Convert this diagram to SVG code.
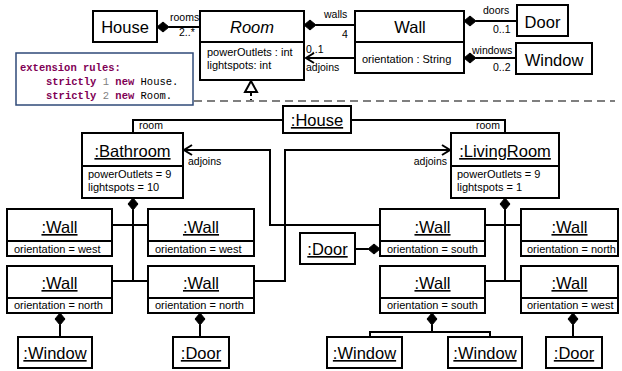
<svg xmlns="http://www.w3.org/2000/svg" width="622" height="371" viewBox="0 0 622 371">
  <style>
    .box { fill: #ffffff; stroke: #000000; stroke-width: 2; }
    .ln { fill: none; stroke: #000000; stroke-width: 2; }
    .dia { fill: #000000; stroke: #000000; stroke-width: 1; }
    .arr { fill: none; stroke: #000000; stroke-width: 2; }
    .t { font-family: "Liberation Sans", Arial, sans-serif; fill: #000000; }
    .cls { font-size: 16.5px; text-anchor: middle; }
    .obj { font-size: 16.5px; text-anchor: middle; text-decoration: underline; }
    .att { font-size: 11px; }
    .lbl { font-size: 10.5px; }
    .code { font-family: "Liberation Mono", "DejaVu Sans Mono", monospace; font-size: 10.5px; fill: #000000; }
    .kw { font-weight: bold; fill: #7f0055; }
    .num { fill: #808080; }
  </style>

  <!-- ===== class model ===== -->
  <g id="cls-house">
    <rect class="box" x="93" y="11" width="64" height="31"/>
    <text class="t cls" x="125" y="33">House</text>
  </g>
  <g id="cls-room">
    <rect class="box" x="200" y="11" width="104" height="69"/>
    <line class="ln" x1="200" y1="42" x2="304" y2="42"/>
    <text class="t cls" x="252" y="33" font-style="italic">Room</text>
    <text class="t att" x="207" y="56">powerOutlets : int</text>
    <text class="t att" x="207" y="69">lightspots: int</text>
  </g>
  <g id="cls-wall">
    <rect class="box" x="355" y="11" width="109" height="62"/>
    <line class="ln" x1="355" y1="42" x2="464" y2="42"/>
    <text class="t cls" x="410" y="33">Wall</text>
    <text class="t att" x="362" y="63">orientation : String</text>
  </g>
  <g id="cls-door">
    <rect class="box" x="517" y="5" width="51" height="31"/>
    <text class="t cls" x="542.5" y="28">Door</text>
  </g>
  <g id="cls-window">
    <rect class="box" x="516" y="43" width="76" height="31"/>
    <text class="t cls" x="554" y="66">Window</text>
  </g>

  <g id="ext-rules">
    <rect x="16" y="53" width="177" height="52" fill="#ffffff" stroke="#2f4a78" stroke-width="1.5"/>
    <text class="code kw" x="20" y="70.5">extension rules:</text>
    <text class="code" x="46" y="84.5"><tspan class="kw">strictly</tspan> <tspan class="num">1</tspan> <tspan class="kw">new</tspan> House.</text>
    <text class="code" x="46" y="98.5"><tspan class="kw">strictly</tspan> <tspan class="num">2</tspan> <tspan class="kw">new</tspan> Room.</text>
  </g>

  <g id="class-connectors">
    <!-- House rooms -->
    <line class="ln" x1="169" y1="27" x2="200" y2="27"/>
    <polygon class="dia" points="157,27 163,22 169,27 163,32"/>
    <text class="t lbl" x="170" y="21">rooms</text>
    <text class="t lbl" x="179" y="36">2..*</text>
    <!-- Room walls -->
    <line class="ln" x1="316" y1="25" x2="355" y2="25"/>
    <polygon class="dia" points="304,25 310,20 316,25 310,30"/>
    <text class="t lbl" x="324" y="18">walls</text>
    <text class="t lbl" x="342" y="38">4</text>
    <!-- Wall adjoins Room -->
    <line class="ln" x1="355" y1="58" x2="306" y2="58"/>
    <polyline class="arr" points="314,53 306,58 314,63"/>
    <text class="t lbl" x="306" y="53">0..1</text>
    <text class="t lbl" x="306" y="71">adjoins</text>
    <!-- Wall doors -->
    <line class="ln" x1="476" y1="21" x2="517" y2="21"/>
    <polygon class="dia" points="464,21 470,16 476,21 470,26"/>
    <text class="t lbl" x="483" y="14">doors</text>
    <text class="t lbl" x="493" y="33">0..1</text>
    <!-- Wall windows -->
    <line class="ln" x1="476" y1="58" x2="516" y2="58"/>
    <polygon class="dia" points="464,58 470,53 476,58 470,63"/>
    <text class="t lbl" x="472" y="54">windows</text>
    <text class="t lbl" x="493" y="71">0..2</text>
    <!-- instance-of separator -->
    <polygon points="251,81 245,92 257,92" fill="#ffffff" stroke="#000000" stroke-width="2"/>
    <line x1="251" y1="92" x2="251" y2="101" stroke="#000000" stroke-width="2" stroke-dasharray="4 3"/>
    <line x1="194" y1="101" x2="615" y2="101" stroke="#7f7f7f" stroke-width="2" stroke-dasharray="8 5"/>
  </g>

  <!-- ===== object model ===== -->
  <g id="obj-connectors">
    <!-- room links -->
    <polyline class="ln" points="283,120 133,120 133,133"/>
    <polyline class="ln" points="351,120 505,120 505,133"/>
    <text class="t lbl" x="139" y="129">room</text>
    <text class="t lbl" x="476" y="129">room</text>
    <!-- adjoins links -->
    <polyline class="ln" points="380,225 270,225 270,150 185,150"/>
    <polyline class="arr" points="192,145 184,150 192,155"/>
    <text class="t lbl" x="188" y="165">adjoins</text>
    <polyline class="ln" points="254,281 285,281 285,150 450,150"/>
    <polyline class="arr" points="442,145 450,150 442,155"/>
    <text class="t lbl" x="447" y="165" text-anchor="end">adjoins</text>
    <!-- Bathroom walls -->
    <polygon class="dia" points="133,198 138,204 133,210 128,204"/>
    <line class="ln" x1="133" y1="210" x2="133" y2="281"/>
    <line class="ln" x1="112" y1="225" x2="148" y2="225"/>
    <line class="ln" x1="112" y1="281" x2="148" y2="281"/>
    <!-- LivingRoom walls -->
    <polygon class="dia" points="505,198 510,204 505,210 500,204"/>
    <line class="ln" x1="505" y1="210" x2="505" y2="281"/>
    <line class="ln" x1="485" y1="225" x2="521" y2="225"/>
    <line class="ln" x1="485" y1="281" x2="521" y2="281"/>
    <!-- door / window parts -->
    <polygon class="dia" points="380,249 374,244 368,249 374,254"/>
    <line class="ln" x1="355" y1="249" x2="368" y2="249"/>
    <polygon class="dia" points="60,313 65,319 60,325 55,319"/>
    <line class="ln" x1="60" y1="325" x2="60" y2="337"/>
    <polygon class="dia" points="200,313 205,319 200,325 195,319"/>
    <line class="ln" x1="200" y1="325" x2="200" y2="337"/>
    <polygon class="dia" points="432,313 437,319 432,325 427,319"/>
    <polyline class="ln" points="432,325 432,332"/>
    <polyline class="ln" points="370,337 370,332 490,332 490,337"/>
    <polygon class="dia" points="573,313 578,319 573,325 568,319"/>
    <line class="ln" x1="573" y1="325" x2="573" y2="337"/>
  </g>

  <g id="o-house">
    <rect class="box" x="283" y="106" width="68" height="27"/>
    <text class="t obj" x="317" y="126">:House</text>
  </g>
  <g id="o-bathroom">
    <rect class="box" x="82" y="133" width="101" height="65"/>
    <line class="ln" x1="82" y1="166" x2="183" y2="166"/>
    <text class="t obj" x="132.5" y="157">:Bathroom</text>
    <text class="t att" x="88" y="178">powerOutlets = 9</text>
    <text class="t att" x="88" y="191">lightspots = 10</text>
  </g>
  <g id="o-livingroom">
    <rect class="box" x="451" y="133" width="108" height="65"/>
    <line class="ln" x1="451" y1="166" x2="559" y2="166"/>
    <text class="t obj" x="505" y="157">:LivingRoom</text>
    <text class="t att" x="457" y="178">powerOutlets = 9</text>
    <text class="t att" x="457" y="191">lightspots = 1</text>
  </g>

  <g id="o-wall-1">
    <rect class="box" x="7" y="209" width="105" height="47"/>
    <line class="ln" x1="7" y1="241" x2="112" y2="241"/>
    <text class="t obj" x="59.5" y="233">:Wall</text>
    <text class="t att" x="14" y="253">orientation = west</text>
  </g>
  <g id="o-wall-2">
    <rect class="box" x="148" y="209" width="106" height="47"/>
    <line class="ln" x1="148" y1="241" x2="254" y2="241"/>
    <text class="t obj" x="201" y="233">:Wall</text>
    <text class="t att" x="155" y="253">orientation = west</text>
  </g>
  <g id="o-wall-3">
    <rect class="box" x="7" y="266" width="105" height="47"/>
    <line class="ln" x1="7" y1="298" x2="112" y2="298"/>
    <text class="t obj" x="59.5" y="289">:Wall</text>
    <text class="t att" x="14" y="309">orientation = north</text>
  </g>
  <g id="o-wall-4">
    <rect class="box" x="148" y="266" width="106" height="47"/>
    <line class="ln" x1="148" y1="298" x2="254" y2="298"/>
    <text class="t obj" x="201" y="289">:Wall</text>
    <text class="t att" x="155" y="309">orientation = north</text>
  </g>
  <g id="o-wall-5">
    <rect class="box" x="380" y="209" width="105" height="47"/>
    <line class="ln" x1="380" y1="241" x2="485" y2="241"/>
    <text class="t obj" x="432.5" y="233">:Wall</text>
    <text class="t att" x="387" y="253">orientation = south</text>
  </g>
  <g id="o-wall-6">
    <rect class="box" x="521" y="209" width="97" height="47"/>
    <line class="ln" x1="521" y1="241" x2="618" y2="241"/>
    <text class="t obj" x="569.5" y="233">:Wall</text>
    <text class="t att" x="527" y="253">orientation = north</text>
  </g>
  <g id="o-wall-7">
    <rect class="box" x="380" y="266" width="105" height="47"/>
    <line class="ln" x1="380" y1="298" x2="485" y2="298"/>
    <text class="t obj" x="432.5" y="289">:Wall</text>
    <text class="t att" x="387" y="309">orientation = south</text>
  </g>
  <g id="o-wall-8">
    <rect class="box" x="521" y="266" width="97" height="47"/>
    <line class="ln" x1="521" y1="298" x2="618" y2="298"/>
    <text class="t obj" x="569.5" y="289">:Wall</text>
    <text class="t att" x="527" y="309">orientation = west</text>
  </g>

  <g id="o-door-1">
    <rect class="box" x="300" y="233" width="55" height="31"/>
    <text class="t obj" x="327.5" y="255">:Door</text>
  </g>
  <g id="o-window-1">
    <rect class="box" x="18" y="337" width="74" height="31"/>
    <text class="t obj" x="55" y="359">:Window</text>
  </g>
  <g id="o-door-2">
    <rect class="box" x="173" y="337" width="56" height="31"/>
    <text class="t obj" x="201" y="359">:Door</text>
  </g>
  <g id="o-window-2">
    <rect class="box" x="327" y="337" width="75" height="31"/>
    <text class="t obj" x="364.5" y="359">:Window</text>
  </g>
  <g id="o-window-3">
    <rect class="box" x="448" y="337" width="74" height="31"/>
    <text class="t obj" x="485" y="359">:Window</text>
  </g>
  <g id="o-door-3">
    <rect class="box" x="546" y="337" width="56" height="31"/>
    <text class="t obj" x="574" y="359">:Door</text>
  </g>
</svg>
